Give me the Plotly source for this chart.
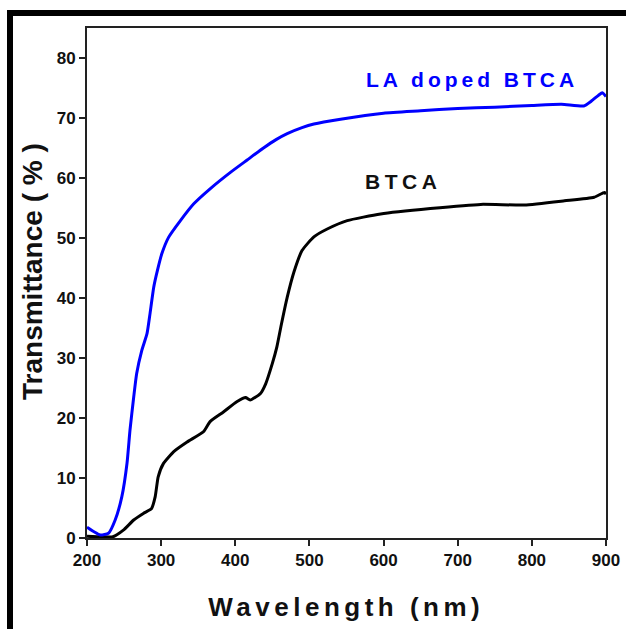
import plotly.graph_objects as go

# UV-Vis transmittance spectra
wl_la = [200, 210, 218, 229, 238, 247, 254, 258, 263, 267, 274, 281, 285, 290, 295,
         301, 310, 326, 344, 366, 393, 416, 438, 455, 470, 490, 506, 542, 600, 650,
         700, 750, 800, 840, 870, 880, 890, 895, 900]
t_la = [1.8, 1.0, 0.5, 0.8, 3.0, 6.9, 12.5, 18.0, 23.5, 27.4, 31.3, 34.1, 37.4, 41.8, 44.6,
        47.4, 50.1, 52.9, 55.7, 58.2, 60.9, 63.0, 65.0, 66.4, 67.4, 68.4, 69.0, 69.8, 70.8, 71.2,
        71.6, 71.8, 72.1, 72.3, 72.0, 72.8, 73.8, 74.2, 73.6]

wl_btca = [200, 220, 235, 249, 263, 276, 287, 292, 296, 303, 317, 335, 357, 366, 384,
           402, 414, 420, 434, 441, 450, 456, 462, 470, 479, 490, 506, 524, 551, 596,
           663, 731, 790, 844, 884, 898, 900]
t_btca = [0.3, 0.2, 0.2, 1.3, 3.0, 4.1, 4.9, 6.9, 10.2, 12.4, 14.4, 16.0, 17.7, 19.4, 21.0,
          22.7, 23.4, 23.0, 24.1, 25.7, 29.1, 31.8, 35.5, 40.1, 44.3, 47.9, 50.2, 51.5, 52.9, 54.0,
          54.9, 55.6, 55.5, 56.2, 56.8, 57.6, 57.3]

x_ticks = [200, 300, 400, 500, 600, 700, 800, 900]
y_ticks = [0, 10, 20, 30, 40, 50, 60, 70, 80]

W, H = 626, 629
L, R, T, B = 87, 20, 28, 91
pw, ph = W - L - R, H - T - B


def px(x):
    return (x - L) / pw


def py(y):
    return (H - B - y) / ph


fig = go.Figure()
fig.add_trace(go.Scatter(x=wl_btca, y=t_btca, mode="lines", name="BTCA",
                         line=dict(color="#000000", width=3, shape="spline", smoothing=0.5)))
fig.add_trace(go.Scatter(x=wl_la, y=t_la, mode="lines", name="LA doped BTCA",
                         line=dict(color="#0000FF", width=3, shape="spline", smoothing=0.5)))

tick_font = dict(family="Liberation Sans Narrow, Arial, sans-serif", size=17,
                 color="#111111", weight="bold")
axis_common = dict(showgrid=False, zeroline=False, showline=True, linecolor="#222222",
                   linewidth=2, mirror=True, ticks="outside", ticklen=6, tickwidth=2,
                   tickcolor="#222222", tickfont=tick_font, automargin=False)

fig.update_layout(
    width=W, height=H,
    margin=dict(l=L, r=R, t=T, b=B),
    paper_bgcolor="white", plot_bgcolor="white",
    showlegend=False,
    xaxis=dict(range=[200, 900], tickvals=x_ticks, **axis_common),
    yaxis=dict(range=[0, 85], tickvals=y_ticks, **axis_common),
    annotations=[
        dict(text="LA doped BTCA", x=719, y=76.5, xref="x", yref="y", showarrow=False,
             font=dict(family="Arial", size=21, color="#0000FF", weight="bold")),
        dict(text="BTCA", x=626, y=59.4, xref="x", yref="y", showarrow=False,
             font=dict(family="Arial", size=21, color="#111111", weight="bold")),
        dict(text="Wavelength (nm)", x=px(346), y=py(607), xref="paper", yref="paper",
             showarrow=False, xanchor="center", yanchor="middle",
             font=dict(family="Arial", size=26, color="#111111", weight="bold")),
        dict(text="Transmittance ( % )", x=px(32), y=py(272), xref="paper", yref="paper",
             showarrow=False, textangle=-90, xanchor="center", yanchor="middle",
             font=dict(family="Arial", size=28, color="#111111", weight="bold")),
    ],
    shapes=[
        # outer frame: top and left bars
        dict(type="rect", xref="paper", yref="paper", x0=px(7), x1=px(700),
             y0=py(16), y1=py(10), fillcolor="black", line=dict(width=0)),
        dict(type="rect", xref="paper", yref="paper", x0=px(7), x1=px(13),
             y0=py(700), y1=py(10), fillcolor="black", line=dict(width=0)),
    ],
)

# page without scrollbars; spread the letters of the curve labels and x title
page_js = """
document.documentElement.style.overflow = 'hidden';
document.body.style.overflow = 'hidden';
document.body.style.margin = '0';
var gd = document.querySelector('.plotly-graph-div');
var sp = {'LA doped BTCA': '4px', 'BTCA': '4.5px', 'Wavelength (nm)': '4.5px'};
gd.querySelectorAll('.annotation-text').forEach(function (t) {
  var s = sp[t.textContent];
  if (s) { t.style.letterSpacing = s; }
});
"""

fig.write_html("out.html", post_script=page_js, config={"responsive": False})
